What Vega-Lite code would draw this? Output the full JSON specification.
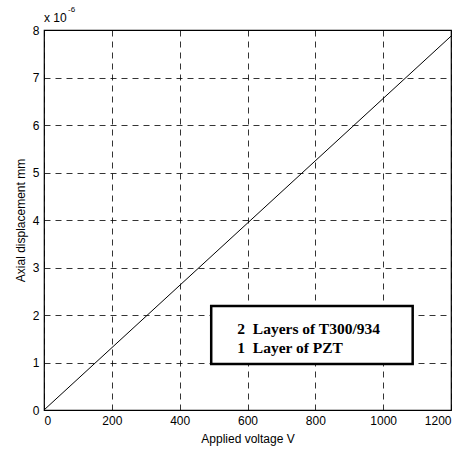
{
  "$schema": "https://vega.github.io/schema/vega-lite/v6.json",
  "autosize": "none",
  "width": 407,
  "height": 380,
  "padding": {"left": 44, "top": 30, "right": 17, "bottom": 40},
  "background": "white",
  "config": {
    "font": "Liberation Sans",
    "view": {"stroke": "black", "strokeWidth": 1.2},
    "axis": {
      "labelColor": "black",
      "titleColor": "black",
      "labelFontSize": 12,
      "titleFontSize": 12,
      "titleFontWeight": "normal",
      "grid": true,
      "gridColor": "black",
      "gridOpacity": 1,
      "gridWidth": 0.8,
      "gridDash": [6, 5],
      "domain": false,
      "ticks": false
    }
  },
  "datasets": {
    "curve": [
      {"voltage": 0, "disp": 0},
      {"voltage": 1200, "disp": 7.87}
    ],
    "box": [
      {"x1": 493, "x2": 1087, "y1": 0.97, "y2": 2.19}
    ],
    "labels": [
      {"x": 570, "y": 1.6, "text": "2\u00a0\u00a0Layers of T300/934"},
      {"x": 570, "y": 1.2, "text": "1\u00a0\u00a0Layer of PZT"}
    ],
    "expo": [
      {"x": 0, "y": 8.17, "text": "x 10", "size": 12},
      {"x": 71, "y": 8.38, "text": "-6", "size": 8}
    ]
  },
  "layer": [
    {
      "data": {"name": "curve"},
      "mark": {"type": "line", "color": "black", "strokeWidth": 1},
      "encoding": {
        "x": {
          "field": "voltage", "type": "quantitative",
          "scale": {"domain": [0, 1200], "nice": false},
          "axis": {"values": [0, 200, 400, 600, 800, 1000, 1200], "format": "d", "title": "Applied voltage V", "labelPadding": 5, "titlePadding": 7}
        },
        "y": {
          "field": "disp", "type": "quantitative",
          "scale": {"domain": [0, 8], "nice": false},
          "axis": {"values": [0, 1, 2, 3, 4, 5, 6, 7, 8], "title": "Axial displacement mm", "labelPadding": 5, "titlePadding": 5}
        }
      }
    },
    {
      "data": {"name": "box"},
      "mark": {"type": "rect", "fill": "white", "stroke": "black", "strokeWidth": 2.5},
      "encoding": {
        "x": {"field": "x1", "type": "quantitative"},
        "x2": {"field": "x2"},
        "y": {"field": "y1", "type": "quantitative"},
        "y2": {"field": "y2"}
      }
    },
    {
      "data": {"name": "labels"},
      "mark": {"type": "text", "font": "Liberation Serif", "fontWeight": "bold", "fontSize": 15.5, "align": "left", "baseline": "alphabetic", "color": "black"},
      "encoding": {
        "x": {"field": "x", "type": "quantitative"},
        "y": {"field": "y", "type": "quantitative"},
        "text": {"field": "text"}
      }
    },
    {
      "data": {"name": "expo"},
      "mark": {"type": "text", "align": "left", "baseline": "alphabetic", "color": "black"},
      "encoding": {
        "x": {"field": "x", "type": "quantitative"},
        "y": {"field": "y", "type": "quantitative"},
        "text": {"field": "text"},
        "size": {"field": "size", "type": "quantitative", "scale": null, "legend": null}
      }
    }
  ]
}
